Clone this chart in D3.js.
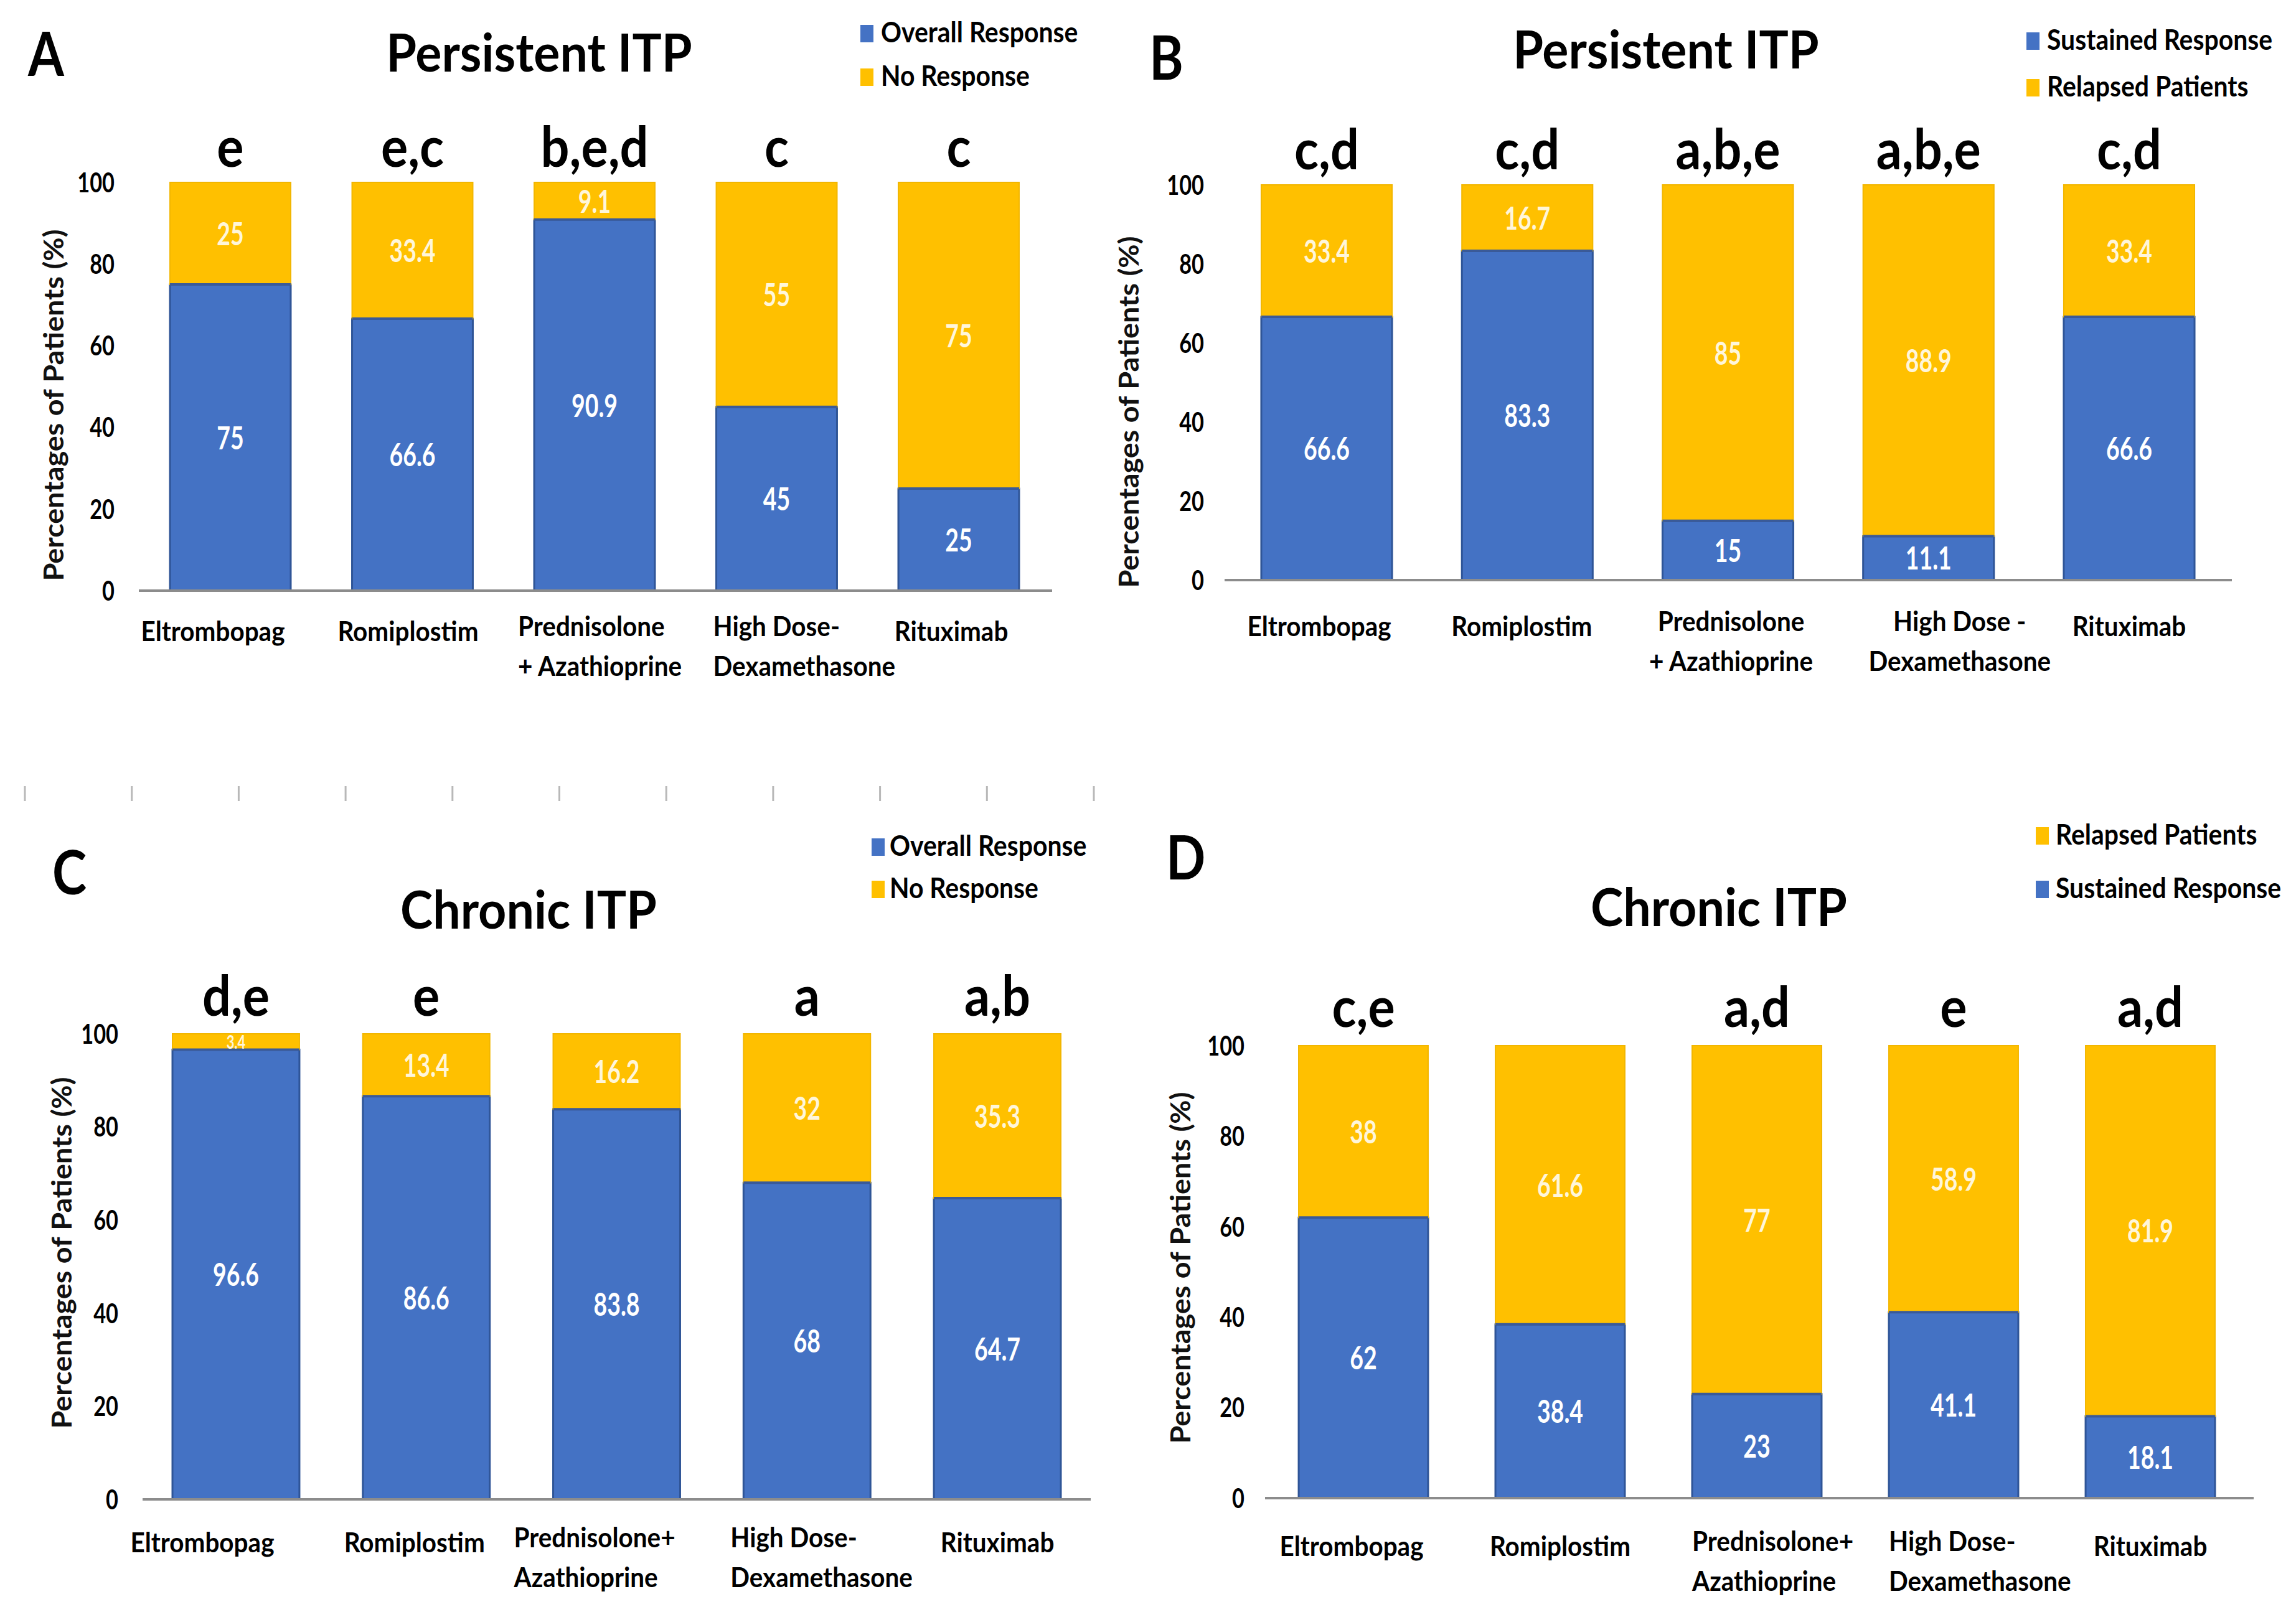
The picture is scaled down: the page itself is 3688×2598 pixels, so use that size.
<!DOCTYPE html>
<html>
<head>
<meta charset="utf-8">
<script src="https://cdn.jsdelivr.net/npm/d3@7"></script>
<style>
  html, body { margin: 0; padding: 0; background: #ffffff; }
  svg { display: block; }
  text { font-family: Lato, "Open Sans", sans-serif; }
</style>
</head>
<body>
<script>
// ---------------- DATA ----------------
const categoriesAB = ["Eltrombopag", "Romiplostim", "Prednisolone|+ Azathioprine", "High Dose-|Dexamethasone", "Rituximab"];
const categoriesB  = ["Eltrombopag", "Romiplostim", "Prednisolone|+ Azathioprine", "High Dose -|Dexamethasone", "Rituximab"];
const categoriesCD = ["Eltrombopag", "Romiplostim", "Prednisolone+|Azathioprine", "High Dose-|Dexamethasone", "Rituximab"];

const yTicks = [0, 20, 40, 60, 80, 100];

// Panel A: Persistent ITP
const overallA  = [75, 66.6, 90.9, 45, 25];
const noRespA   = [25, 33.4, 9.1, 55, 75];
const lettersA  = ["e", "e,c", "b,e,d", "c", "c"];

// Panel B: Persistent ITP
const sustainedB = [66.6, 83.3, 15, 11.1, 66.6];
const relapsedB  = [33.4, 16.7, 85, 88.9, 33.4];
const lettersB   = ["c,d", "c,d", "a,b,e", "a,b,e", "c,d"];

// Panel C: Chronic ITP
const overallC  = [96.6, 86.6, 83.8, 68, 64.7];
const noRespC   = [3.4, 13.4, 16.2, 32, 35.3];
const lettersC  = ["d,e", "e", "", "a", "a,b"];

// Panel D: Chronic ITP
const sustainedD = [62, 38.4, 23, 41.1, 18.1];
const relapsedD  = [38, 61.6, 77, 58.9, 81.9];
const lettersD   = ["c,e", "", "a,d", "e", "a,d"];

const BLUE = "#4472C4", GOLD = "#FFC000";

// ---------------- LAYOUT ----------------
const W = 3688, H = 2598;
const svg = d3.select("body").append("svg").attr("width", W).attr("height", H);
svg.append("rect").attr("width", W).attr("height", H).attr("fill", "#fff");

// faint tick marks row (divider remnant between rows)
const divider = svg.append("g");
d3.range(11).forEach(i => {
  divider.append("line")
    .attr("x1", 40 + i * 171.7).attr("x2", 40 + i * 171.7)
    .attr("y1", 1263).attr("y2", 1287)
    .attr("stroke", "#b8b8b8").attr("stroke-width", 3);
});

function sText(g, x, y, str, size, sx, opt = {}) {
  return g.append("text")
    .attr("transform", `translate(${x},${y}) scale(${sx},1)`)
    .attr("text-anchor", opt.anchor || "middle")
    .attr("font-size", size)
    .attr("font-weight", opt.weight || 700)
    .attr("fill", opt.fill || "#000")
    .attr("dy", opt.dy || 0)
    .text(str);
}

// category label placement per panel: [anchor, dx] (dx from bar centre for middle, from bar left for start)
const labLayoutA = [["middle", -28], ["middle", -7], ["start", -26], ["start", -5], ["middle", -12]];
const labLayoutB = [["middle", -12], ["middle", -9], ["middle", 5], ["middle", 50], ["middle", 0]];
const labLayoutC = [["middle", -54], ["middle", -19], ["start", -63], ["start", -21], ["middle", 0]];
const labLayoutD = [["middle", -19], ["middle", 0], ["start", 0], ["start", 0], ["middle", 0]];

const panels = [
  { cats: categoriesAB, low: overallA, high: noRespA, letters: lettersA, lab: labLayoutA,
    lowName: "Overall Response", highName: "No Response", legendOrder: ["low", "high"],
    title: "Persistent ITP", tag: "A",
    xr: [223.75, 1686.25], pad: 0.337, yr: [949, 293], axis: [223, 1690], tickRight: 184,
    ylab: [87, 651], titlePos: [866, 115], tagPos: [45, 122], letY: 268, xlabY: 1030,
    leg: { sq: 1382, tx: 1415, rows: [68, 138] } },
  { cats: categoriesB, low: sustainedB, high: relapsedB, letters: lettersB, lab: labLayoutB,
    lowName: "Sustained Response", highName: "Relapsed Patients", legendOrder: ["low", "high"],
    title: "Persistent ITP", tag: "B",
    xr: [1969.9, 3581.1], pad: 0.348, yr: [932, 297], axis: [1967, 3585], tickRight: 1934,
    ylab: [1814, 662], titlePos: [2676, 110], tagPos: [1846, 128], letY: 272, xlabY: 1022,
    leg: { sq: 3255, tx: 3288, rows: [80, 155] } },
  { cats: categoriesCD, low: overallC, high: noRespC, letters: lettersC, lab: labLayoutC,
    lowName: "Overall Response", highName: "No Response", legendOrder: ["low", "high"],
    title: "Chronic ITP", tag: "C",
    xr: [226.1, 1754.9], pad: 0.333, yr: [2409, 1661], axis: [229, 1752], tickRight: 190,
    ylab: [100, 2013], titlePos: [849, 1492], tagPos: [84, 1437], letY: 1632, xlabY: 2494,
    leg: { sq: 1400, tx: 1429, rows: [1375, 1443] } },
  { cats: categoriesCD, low: sustainedD, high: relapsedD, letters: lettersD, lab: labLayoutD,
    lowName: "Sustained Response", highName: "Relapsed Patients", legendOrder: ["high", "low"],
    title: "Chronic ITP", tag: "D",
    xr: [2032, 3612], pad: 0.342, yr: [2407, 1680], axis: [2032, 3620], tickRight: 1999,
    ylab: [1897, 2037], titlePos: [2761, 1488], tagPos: [1873, 1413], letY: 1650, xlabY: 2500,
    leg: { sq: 3270, tx: 3302, rows: [1357, 1443] } }
];

panels.forEach(p => {
  const g = svg.append("g");
  const x = d3.scaleBand().domain(p.cats).range(p.xr).paddingInner(p.pad).paddingOuter(p.pad / 2);
  const y = d3.scaleLinear().domain([0, 100]).range(p.yr);

  // title & tag
  sText(g, p.titlePos[0], p.titlePos[1], p.title, 84, 0.94);
  sText(g, p.tagPos[0], p.tagPos[1], p.tag, 98, 0.85, { anchor: "start" });

  // y axis tick labels (no line)
  const ya = g.append("g").attr("transform", `translate(${p.tickRight},0)`)
    .call(d3.axisLeft(y).tickValues(yTicks).tickSize(0).tickPadding(0));
  ya.select(".domain").remove();
  ya.selectAll(".tick").attr("transform", null);
  ya.selectAll("text").each(function(d) {
    d3.select(this)
      .attr("x", null).attr("y", 0).attr("dy", "0.36em")
      .attr("transform", `translate(0,${y(d)}) scale(0.78,1)`)
      .attr("font-size", 44).attr("font-weight", 700)
      .attr("font-family", "Lato, sans-serif").attr("fill", "#000")
      .attr("text-anchor", "end");
  });

  // y axis label
  g.append("text")
    .attr("transform", `translate(${p.ylab[0]},${p.ylab[1]}) rotate(-90) scale(1.04,0.98)`)
    .attr("text-anchor", "middle").attr("dy", "0.35em")
    .attr("font-size", 45).attr("font-weight", 700).attr("fill", "#111")
    .text("Percentages of Patients (%)");

  // bars
  const rows = p.cats.map((c, i) => ({ cat: c, i: i, low: p.low[i], high: p.high[i], letter: p.letters[i] }));
  const bars = g.append("g");
  bars.selectAll("rect.low").data(rows).join("rect").attr("class", "low")
    .attr("x", d => x(d.cat)).attr("width", x.bandwidth())
    .attr("y", d => y(d.low)).attr("height", d => y(0) - y(d.low))
    .attr("fill", BLUE).attr("stroke", "#2F5597").attr("stroke-width", 3);
  bars.selectAll("rect.high").data(rows).join("rect").attr("class", "high")
    .attr("x", d => x(d.cat)).attr("width", x.bandwidth())
    .attr("y", d => y(d.low + d.high)).attr("height", d => y(d.low) - y(d.low + d.high))
    .attr("fill", GOLD).attr("stroke", "#F2B600").attr("stroke-width", 2);
  bars.selectAll("line.sep").data(rows).join("line").attr("class", "sep")
    .attr("x1", d => x(d.cat)).attr("x2", d => x(d.cat) + x.bandwidth())
    .attr("y1", d => y(d.low)).attr("y2", d => y(d.low))
    .attr("stroke", "#3A5A98").attr("stroke-width", 4);

  // value labels + significance letters
  rows.forEach(d => {
    const cx = x(d.cat) + x.bandwidth() / 2;
    const hLow = y(0) - y(d.low), hHigh = y(d.low) - y(d.low + d.high);
    sText(g, cx, y(d.low / 2), String(d.low), Math.min(52, hLow * 1.2), 0.72, { fill: "#ffffff", dy: "0.36em" });
    sText(g, cx, y(d.low + d.high / 2), String(d.high), Math.min(52, hHigh * 1.2), 0.72, { fill: "#FFF6DA", dy: "0.36em" });
    if (d.letter) sText(g, cx, p.letY, d.letter, 90, 0.9);
  });

  // x axis line
  g.append("line").attr("x1", p.axis[0]).attr("x2", p.axis[1])
    .attr("y1", y(0)).attr("y2", y(0)).attr("stroke", "#8c8c8c").attr("stroke-width", 4);

  // category labels
  rows.forEach(d => {
    const [anchor, dx] = p.lab[d.i];
    const lx = anchor === "start" ? x(d.cat) + dx : x(d.cat) + x.bandwidth() / 2 + dx;
    const parts = d.cat.split("|");
    if (parts.length === 1) {
      sText(g, lx, p.xlabY, parts[0], 44, 0.92, { anchor });
    } else {
      sText(g, lx, p.xlabY - 8, parts[0], 44, 0.92, { anchor });
      sText(g, lx, p.xlabY + 56, parts[1], 44, 0.92, { anchor });
    }
  });

  // legend
  const legItems = p.legendOrder.map(k => k === "low" ? { name: p.lowName, col: BLUE } : { name: p.highName, col: GOLD });
  legItems.forEach((it, i) => {
    const by = p.leg.rows[i];
    g.append("rect").attr("x", p.leg.sq).attr("y", by - 28).attr("width", 21).attr("height", 28).attr("fill", it.col);
    sText(g, p.leg.tx, by, it.name, 46, 0.89, { anchor: "start" });
  });
});
</script>
</body>
</html>
